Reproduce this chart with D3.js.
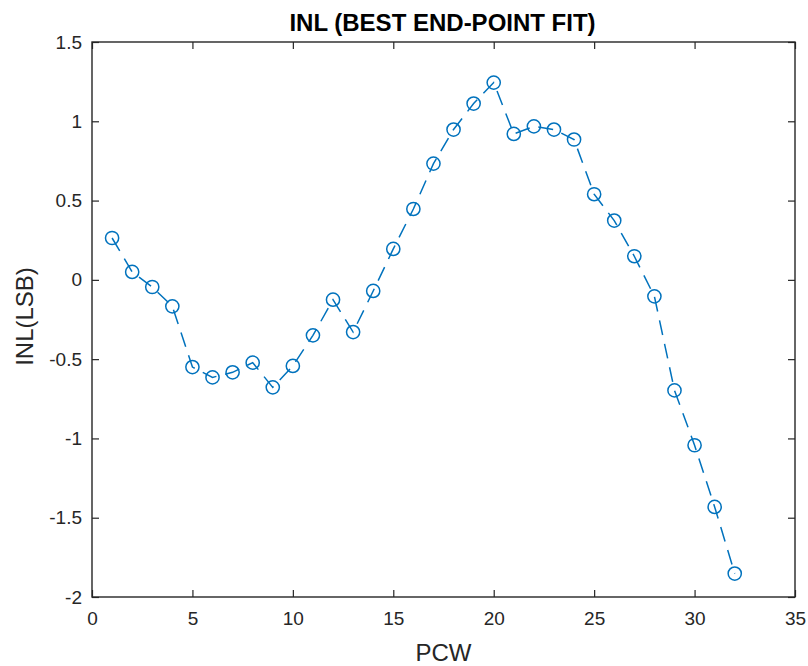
<!DOCTYPE html>
<html>
<head>
<meta charset="utf-8">
<script src="https://cdn.jsdelivr.net/npm/d3@7"></script>
<style>
  html, body { margin: 0; padding: 0; background: #fff; }
  svg { display: block; font-family: "Liberation Sans", Arial, Helvetica, sans-serif; }
</style>
</head>
<body>
<svg id="chart" width="808" height="666"></svg>
<script>
// PCW index along the x axis
const pcw = [1,2,3,4,5,6,7,8,9,10,11,12,13,14,15,16,17,18,19,20,21,22,23,24,25,26,27,28,29,30,31,32];
// INL values in LSB for each PCW
const inl = [0.264,0.05,-0.045,-0.167,-0.55,-0.615,-0.583,-0.522,-0.678,-0.543,-0.35,-0.125,-0.329,-0.07,0.195,0.447,
             0.733,0.948,1.112,1.244,0.92,0.968,0.948,0.885,0.54,0.374,0.149,-0.104,-0.697,-1.043,-1.432,-1.852];
const xTicks = [0,5,10,15,20,25,30,35];
const yTicks = [-2,-1.5,-1,-0.5,0,0.5,1,1.5];

const titleText = "INL (BEST END-POINT FIT)";
const xLabel = "PCW";
const yLabel = "INL(LSB)";

const svg = d3.select("#chart");
const plot = { left: 92, right: 795, top: 42, bottom: 597 };
const axisColor = "#262626";
const lineColor = "#0072BD";

const x = d3.scaleLinear().domain([0, 35]).range([plot.left, plot.right]);
const y = d3.scaleLinear().domain([-2, 1.5]).range([plot.bottom, plot.top]);

const tickLen = 7;
const fmt = d => String(d);

// bottom axis
const gx = svg.append("g").attr("transform", `translate(0,${plot.bottom})`)
  .call(d3.axisBottom(x).tickValues(xTicks).tickSize(-tickLen).tickPadding(15).tickFormat(fmt));
// top axis (ticks only)
const gxt = svg.append("g").attr("transform", `translate(0,${plot.top})`)
  .call(d3.axisTop(x).tickValues(xTicks).tickSize(-tickLen).tickFormat(""));
// left axis
const gy = svg.append("g").attr("transform", `translate(${plot.left},0)`)
  .call(d3.axisLeft(y).tickValues(yTicks).tickSize(-tickLen).tickPadding(10).tickFormat(fmt));
// right axis (ticks only)
const gyr = svg.append("g").attr("transform", `translate(${plot.right},0)`)
  .call(d3.axisRight(y).tickValues(yTicks).tickSize(-tickLen).tickFormat(""));

[gx, gxt, gy, gyr].forEach(g => {
  g.select(".domain").remove();
  g.selectAll(".tick line").attr("stroke", axisColor).attr("stroke-width", 1.2);
  g.selectAll(".tick text").attr("fill", axisColor).attr("font-size", 19)
    .attr("font-family", "Liberation Sans, Arial, sans-serif");
});

// axes box
svg.append("rect")
  .attr("x", plot.left).attr("y", plot.top)
  .attr("width", plot.right - plot.left).attr("height", plot.bottom - plot.top)
  .attr("fill", "none").attr("stroke", axisColor).attr("stroke-width", 1.4);

// dashed series line
const line = d3.line().x((d, i) => x(pcw[i])).y(d => y(d));
svg.append("path")
  .datum(inl)
  .attr("d", line)
  .attr("fill", "none")
  .attr("stroke", lineColor)
  .attr("stroke-width", 1.5)
  .attr("stroke-dasharray", "15,9");

// circle markers
svg.append("g").selectAll("circle")
  .data(inl)
  .join("circle")
  .attr("cx", (d, i) => x(pcw[i]))
  .attr("cy", d => y(d))
  .attr("r", 6.6)
  .attr("fill", "none")
  .attr("stroke", lineColor)
  .attr("stroke-width", 1.5);

// title
svg.append("text")
  .attr("x", (plot.left + plot.right) / 2 - 1)
  .attr("y", 31)
  .attr("text-anchor", "middle")
  .attr("font-size", 24)
  .attr("font-weight", "bold")
  .attr("fill", "#000")
  .text(titleText);

// x label
svg.append("text")
  .attr("x", (plot.left + plot.right) / 2)
  .attr("y", 661)
  .attr("text-anchor", "middle")
  .attr("font-size", 24)
  .attr("fill", axisColor)
  .text(xLabel);

// y label
svg.append("text")
  .attr("transform", `translate(33,${(plot.top + plot.bottom) / 2 - 3}) rotate(-90)`)
  .attr("text-anchor", "middle")
  .attr("font-size", 24)
  .attr("fill", axisColor)
  .text(yLabel);
</script>
</body>
</html>
